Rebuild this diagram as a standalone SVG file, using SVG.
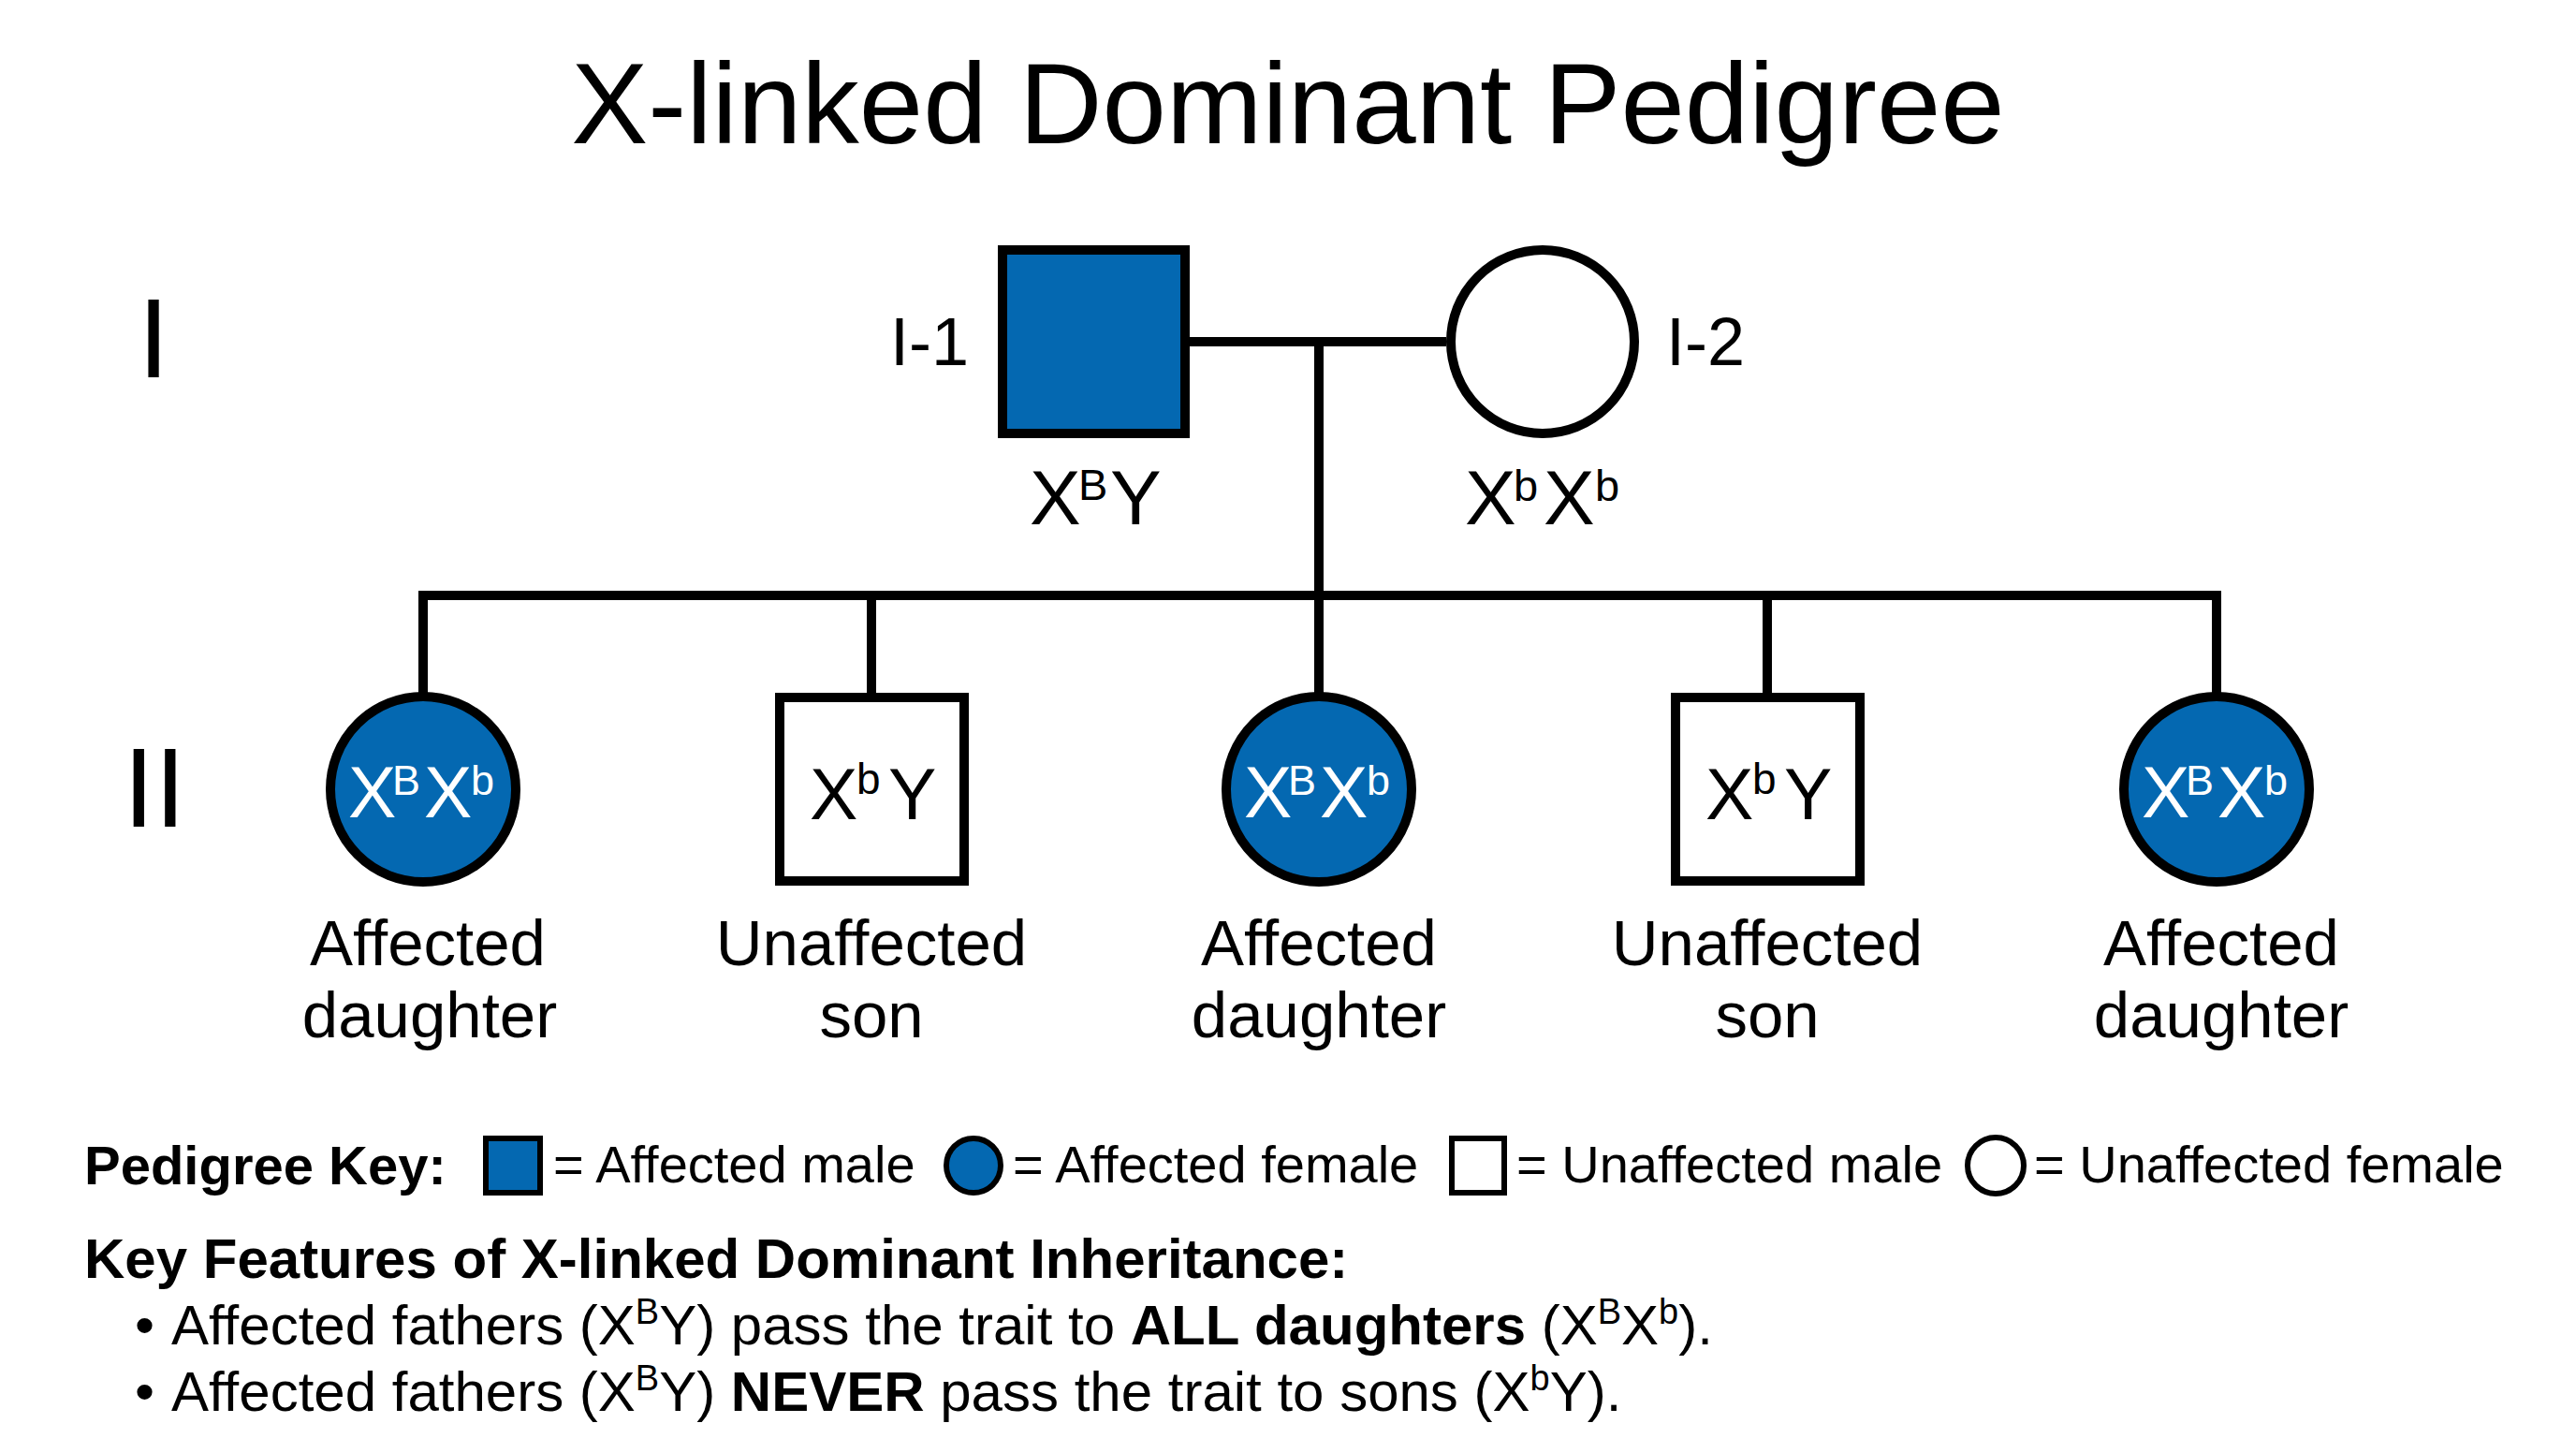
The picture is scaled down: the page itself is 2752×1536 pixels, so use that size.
<svg xmlns="http://www.w3.org/2000/svg" width="2752" height="1536" viewBox="0 0 2752 1536">
  <style>
    text { font-family: "Liberation Sans", Arial, sans-serif; fill: #000; }
    .title { font-size: 123px; }
    .gen { font-size: 121px; }
    .id { font-size: 72px; }
    .geno { font-size: 77px; }
    .genoW { font-size: 77px; fill: #fff; }
    .sup { font-size: 45px; }
    .supS { font-size: 46px; }
    .pgeno { font-size: 82px; }
    .psup { font-size: 47px; }
    .lab { font-size: 69px; }
    .key { font-size: 58px; font-weight: bold; }
    .keytxt { font-size: 56px; }
    .head { font-size: 60px; font-weight: bold; }
    .body { font-size: 60px; }
    .bsup { font-size: 38px; }
    .b { font-weight: bold; }
    .aff { fill: #0468B1; stroke: #000; stroke-width: 10; }
    .unaff { fill: #fff; stroke: #000; stroke-width: 10; }
    .kaff { fill: #0468B1; stroke: #000; stroke-width: 6; }
    .kunaff { fill: #fff; stroke: #000; stroke-width: 6; }
    .line { fill: none; stroke: #000; stroke-width: 10; stroke-linejoin: miter; }
  </style>
  <rect width="2752" height="1536" fill="#fff"/>

  <text class="title" x="1376" y="153" text-anchor="middle">X-linked Dominant Pedigree</text>

  <g id="gen-labels">
    <text class="gen" x="164" y="403" text-anchor="middle">I</text>
    <text class="gen" x="165" y="883" text-anchor="middle">II</text>
  </g>

  <g id="connectors">
    <path class="line" d="M1271 365 H1545"/>
    <path class="line" d="M1409 365 V636"/>
    <path class="line" d="M452 745 V636 H2368 V745"/>
    <path class="line" d="M931 636 V745"/>
    <path class="line" d="M1409 636 V745"/>
    <path class="line" d="M1888 636 V745"/>
  </g>

  <g id="I-1">
    <rect class="aff" x="1071" y="267" width="195" height="196"/>
    <text class="id" x="951" y="390">I-1</text>
    <text class="pgeno" y="560"><tspan x="1100">X</tspan><tspan class="psup" x="1152" y="534">B</tspan><tspan x="1186" y="560">Y</tspan></text>
  </g>

  <g id="I-2">
    <circle class="unaff" cx="1648" cy="365" r="98"/>
    <text class="id" x="1780" y="390">I-2</text>
    <text class="pgeno" y="560"><tspan x="1565">X</tspan><tspan class="psup" x="1617" y="535">b</tspan><tspan x="1649" y="560">X</tspan><tspan class="psup" x="1704" y="535">b</tspan></text>
  </g>

  <g id="II-1">
    <circle class="aff" cx="452" cy="843" r="99"/>
    <text class="genoW" y="873"><tspan x="372">X</tspan><tspan class="sup" x="419" y="849">B</tspan><tspan x="453" y="873">X</tspan><tspan class="sup" x="503" y="849">b</tspan></text>
    <text class="lab" text-anchor="middle"><tspan x="457" y="1031">Affected</tspan><tspan x="459" y="1108">daughter</tspan></text>
  </g>

  <g id="II-2">
    <rect class="unaff" x="833" y="745" width="197" height="196"/>
    <text class="geno" y="875"><tspan x="865">X</tspan><tspan class="supS" x="915" y="848">b</tspan><tspan x="949" y="875">Y</tspan></text>
    <text class="lab" text-anchor="middle"><tspan x="931" y="1031">Unaffected</tspan><tspan x="931" y="1108">son</tspan></text>
  </g>

  <g id="II-3">
    <circle class="aff" cx="1409" cy="843" r="99"/>
    <text class="genoW" y="873"><tspan x="1329">X</tspan><tspan class="sup" x="1376" y="849">B</tspan><tspan x="1410" y="873">X</tspan><tspan class="sup" x="1460" y="849">b</tspan></text>
    <text class="lab" text-anchor="middle"><tspan x="1409" y="1031">Affected</tspan><tspan x="1409" y="1108">daughter</tspan></text>
  </g>

  <g id="II-4">
    <rect class="unaff" x="1790" y="745" width="197" height="196"/>
    <text class="geno" y="875"><tspan x="1822">X</tspan><tspan class="supS" x="1872" y="848">b</tspan><tspan x="1906" y="875">Y</tspan></text>
    <text class="lab" text-anchor="middle"><tspan x="1888" y="1031">Unaffected</tspan><tspan x="1888" y="1108">son</tspan></text>
  </g>

  <g id="II-5">
    <circle class="aff" cx="2368" cy="843" r="99"/>
    <text class="genoW" y="873"><tspan x="2288">X</tspan><tspan class="sup" x="2335" y="849">B</tspan><tspan x="2369" y="873">X</tspan><tspan class="sup" x="2419" y="849">b</tspan></text>
    <text class="lab" text-anchor="middle"><tspan x="2373" y="1031">Affected</tspan><tspan x="2373" y="1108">daughter</tspan></text>
  </g>

  <g id="legend">
    <text class="key" x="90" y="1265">Pedigree Key:</text>
    <rect class="kaff" x="519" y="1216" width="58" height="58"/>
    <text class="keytxt" x="591" y="1263">= Affected male</text>
    <circle class="kaff" cx="1040" cy="1245" r="29"/>
    <text class="keytxt" x="1082" y="1263">= Affected female</text>
    <rect class="kunaff" x="1551" y="1216" width="56" height="58"/>
    <text class="keytxt" x="1620" y="1263">= Unaffected male</text>
    <circle class="kunaff" cx="2132" cy="1245" r="30"/>
    <text class="keytxt" x="2173" y="1263">= Unaffected female</text>
  </g>

  <g id="features">
    <text class="head" x="90" y="1365">Key Features of X-linked Dominant Inheritance:</text>
    <text class="body" y="1436"><tspan x="144">•</tspan><tspan x="183">Affected fathers (X</tspan><tspan class="bsup" dy="-22">B</tspan><tspan dy="22">Y) pass the trait to </tspan><tspan class="b">ALL daughters</tspan><tspan> (X</tspan><tspan class="bsup" dy="-22">B</tspan><tspan dy="22">X</tspan><tspan class="bsup" dy="-22">b</tspan><tspan dy="22">).</tspan></text>
    <text class="body" y="1507"><tspan x="144">•</tspan><tspan x="183">Affected fathers (X</tspan><tspan class="bsup" dy="-22">B</tspan><tspan dy="22">Y) </tspan><tspan class="b">NEVER</tspan><tspan> pass the trait to sons (X</tspan><tspan class="bsup" dy="-22">b</tspan><tspan dy="22">Y).</tspan></text>
  </g>
</svg>
